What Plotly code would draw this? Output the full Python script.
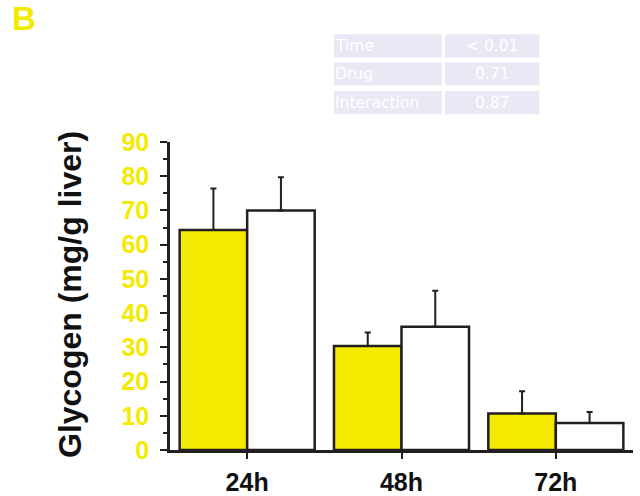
import plotly.graph_objects as go

# ---- data ----
categories = ["24h", "48h", "72h"]
control_vals = [64.3, 30.4, 10.7]
control_err = [12.1, 3.9, 6.5]
drug_vals = [70.0, 36.0, 7.9]
drug_err = [9.7, 10.5, 3.2]
y_ticks = [0, 10, 20, 30, 40, 50, 60, 70, 80, 90]

table_factors = ["Time", "Drug", "Interaction"]
table_pvalues = ["< 0.01", "0.71", "0.87"]

# ---- style ----
YELLOW = "#F4EA00"
DARK = "#231F20"
CELL_BG = "#E8E9F4"

W, H = 640, 496
ML, MT = 170, 142
PW, PH = 463, 308
MR = W - ML - PW
MB = H - MT - PH


def px_x(page_x):
    return (page_x - ML) / PW


def px_y(page_y):
    return (MT + PH - page_y) / PH


fig = go.Figure()
fig.add_trace(go.Bar(
    x=categories, y=control_vals, name="Control",
    marker=dict(color=YELLOW, line=dict(color=DARK, width=2.5)),
    error_y=dict(type="data", array=control_err, arrayminus=[0] * len(control_err),
                 symmetric=False, color=DARK, thickness=2, width=3),
))
fig.add_trace(go.Bar(
    x=categories, y=drug_vals, name="Drug",
    marker=dict(color="#FFFFFF", line=dict(color=DARK, width=2.5)),
    error_y=dict(type="data", array=drug_err, arrayminus=[0] * len(drug_err),
                 symmetric=False, color=DARK, thickness=2, width=3),
))

shapes = []
annotations = []

# table
row_tops = [34.3, 62.3, 91.0]
row_h = 23.2
col1 = (334, 441.7)
col2 = (445, 539.3)
for i, (f, p) in enumerate(zip(table_factors, table_pvalues)):
    t = row_tops[i]
    b = t + row_h
    for (x0, x1) in (col1, col2):
        shapes.append(dict(type="rect", xref="paper", yref="paper",
                           x0=px_x(x0), x1=px_x(x1), y0=px_y(b), y1=px_y(t),
                           fillcolor=CELL_BG, line=dict(width=0), layer="below"))
    yc = px_y((t + b) / 2)
    annotations.append(dict(xref="paper", yref="paper", x=px_x(col1[0] - 1.5), y=yc,
                            xanchor="left", yanchor="middle", text=f, showarrow=False,
                            font=dict(family="DejaVu Sans", size=15.5, color="#FFFFFF")))
    annotations.append(dict(xref="paper", yref="paper", x=px_x((col2[0] + col2[1]) / 2), y=yc,
                            xanchor="center", yanchor="middle", text=p, showarrow=False,
                            font=dict(family="DejaVu Sans", size=15.5, color="#FFFFFF")))

# panel label
annotations.append(dict(xref="paper", yref="paper", x=px_x(9.7), y=px_y(-2.5),
                        xanchor="left", yanchor="top", text="<b>B</b>", showarrow=False,
                        font=dict(family="Liberation Sans", size=33, color=YELLOW)))
# y title
annotations.append(dict(xref="paper", yref="paper", x=px_x(70), y=px_y(295),
                        xanchor="center", yanchor="middle", textangle=-90,
                        text="<b>Glycogen (mg/g liver)</b>", showarrow=False,
                        font=dict(family="Liberation Sans", size=32, color="#111111")))

fig.update_layout(
    width=W, height=H,
    margin=dict(l=ML, r=MR, t=MT, b=MB, pad=0, autoexpand=False),
    paper_bgcolor="white", plot_bgcolor="white",
    barmode="group", bargap=0.125, bargroupgap=0,
    showlegend=False,
    shapes=shapes, annotations=annotations,
    xaxis=dict(
        range=[-0.5, 2.5], showgrid=False, zeroline=False, automargin=False,
        showline=True, linecolor=DARK, linewidth=3,
        ticks="outside", ticklen=6, tickwidth=2, tickcolor=DARK,
        tickfont=dict(family="Liberation Sans", size=25, color="#111111", weight="bold"),
        ticklabelstandoff=2,
    ),
    yaxis=dict(
        range=[0, 90], showgrid=False, zeroline=False, automargin=False,
        showline=True, linecolor=DARK, linewidth=2.5,
        tickvals=y_ticks, ticktext=[f"<b>{v}</b>" for v in y_ticks],
        ticks="outside", ticklen=7, tickwidth=2, tickcolor=DARK,
        minor=dict(dtick=5, tick0=0, ticks="outside", ticklen=4, tickwidth=2, tickcolor=DARK),
        tickfont=dict(family="Liberation Sans", size=25, color=YELLOW),
        ticklabelstandoff=6,
    ),
)

fig.write_html("out.html", config={"displayModeBar": False},
               post_script="document.body.style.margin='0px';")
